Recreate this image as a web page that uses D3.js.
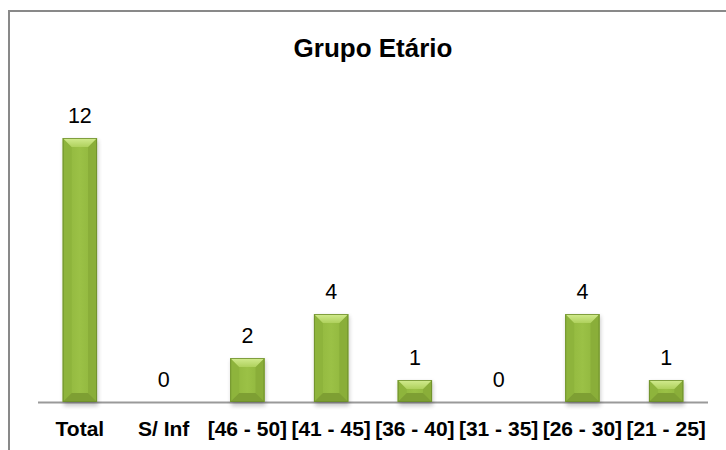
<!DOCTYPE html>
<html>
<head>
<meta charset="utf-8">
<script src="https://cdn.jsdelivr.net/npm/d3@7"></script>
<style>
  body { margin: 0; background: #fff; }
  text { font-family: "Liberation Sans", Arial, sans-serif; fill: #000; }
</style>
</head>
<body>
<script>
// Data
const categories = ["Total", "S/ Inf", "[46 - 50]", "[41 - 45]", "[36 - 40]", "[31 - 35]", "[26 - 30]", "[21 - 25]"];
const values = [12, 0, 2, 4, 1, 0, 4, 1];
const title = "Grupo Etário";

const W = 726, H = 450;
const plot = { left: 38, right: 708, top: 138, bottom: 402 };

const svg = d3.select("body")
    .append("svg")
    .attr("width", W)
    .attr("height", H);

// Frame (only top and left visible in the crop)
svg.append("path")
    .attr("d", `M9,${H} L9,11 L${W},11`)
    .attr("fill", "none")
    .attr("stroke", "#898989")
    .attr("stroke-width", 2);

// Title
svg.append("text")
    .attr("x", 373)
    .attr("y", 57)
    .attr("text-anchor", "middle")
    .attr("font-size", "26px")
    .attr("font-weight", "bold")
    .text(title);

// Scales
const x = d3.scaleBand()
    .domain(categories)
    .range([plot.left, plot.right])
    .paddingInner(0.59)
    .paddingOuter(0.295);

const y = d3.scaleLinear()
    .domain([0, 12])
    .range([plot.bottom, plot.top]);

// Gradients / shadow
const defs = svg.append("defs");
defs.append("filter")
    .attr("id", "shadow")
    .attr("x", "-30%").attr("y", "-30%")
    .attr("width", "160%").attr("height", "160%")
    .append("feGaussianBlur")
    .attr("stdDeviation", 2);

const faceGrad = defs.append("linearGradient")
    .attr("id", "face")
    .attr("x1", "0").attr("x2", "1").attr("y1", "0").attr("y2", "0");
faceGrad.append("stop").attr("offset", "0%").attr("stop-color", "#8fb53c");
faceGrad.append("stop").attr("offset", "50%").attr("stop-color", "#9bc146");
faceGrad.append("stop").attr("offset", "100%").attr("stop-color", "#8db33b");

const topGrad = defs.append("linearGradient")
    .attr("id", "topFacet")
    .attr("x1", "0").attr("x2", "0").attr("y1", "0").attr("y2", "1");
topGrad.append("stop").attr("offset", "0%").attr("stop-color", "#d3ec90");
topGrad.append("stop").attr("offset", "100%").attr("stop-color", "#afd15d");

// Baseline
svg.append("line")
    .attr("x1", plot.left)
    .attr("x2", plot.right)
    .attr("y1", plot.bottom + 0.5)
    .attr("y2", plot.bottom + 0.5)
    .attr("stroke", "#9a9a9a")
    .attr("stroke-width", 2);

// Bars
const bars = svg.selectAll(".bar")
    .data(values.map((v, i) => ({ cat: categories[i], v })).filter(d => d.v > 0))
    .enter()
    .append("g")
    .attr("class", "bar");

bars.append("rect")
    .attr("x", d => x(d.cat) + 1)
    .attr("y", d => y(d.v) + 2)
    .attr("width", x.bandwidth())
    .attr("height", d => plot.bottom - y(d.v) + 2)
    .attr("fill", "#000")
    .attr("opacity", 0.22)
    .attr("filter", "url(#shadow)");

bars.each(function (d) {
    const g = d3.select(this);
    const x0 = x(d.cat), x1 = x0 + x.bandwidth();
    const y0 = y(d.v), y1 = plot.bottom;
    const b = Math.min(9, (x1 - x0) / 2, (y1 - y0) / 2);

    g.append("rect")
        .attr("x", x0).attr("y", y0)
        .attr("width", x1 - x0).attr("height", y1 - y0)
        .attr("fill", "url(#face)");
    // left facet
    g.append("polygon")
        .attr("points", [[x0, y0], [x0 + b, y0 + b], [x0 + b, y1 - b], [x0, y1]].join(" "))
        .attr("fill", "#8eb43c");
    // right facet
    g.append("polygon")
        .attr("points", [[x1, y0], [x1, y1], [x1 - b, y1 - b], [x1 - b, y0 + b]].join(" "))
        .attr("fill", "#8aae39");
    // bottom facet
    g.append("polygon")
        .attr("points", [[x0, y1], [x0 + b, y1 - b], [x1 - b, y1 - b], [x1, y1]].join(" "))
        .attr("fill", "#7e9f33");
    // top facet
    g.append("polygon")
        .attr("points", [[x0, y0], [x1, y0], [x1 - b, y0 + b], [x0 + b, y0 + b]].join(" "))
        .attr("fill", "url(#topFacet)");
    // outline
    g.append("rect")
        .attr("x", x0 + 0.5).attr("y", y0 + 0.5)
        .attr("width", x1 - x0 - 1).attr("height", y1 - y0 - 1)
        .attr("fill", "none")
        .attr("stroke", "#6c8c2a")
        .attr("stroke-opacity", 0.8)
        .attr("stroke-width", 1);
});

// Value labels
svg.selectAll(".label")
    .data(values)
    .enter()
    .append("text")
    .attr("class", "label")
    .attr("x", (d, i) => x(categories[i]) + x.bandwidth() / 2)
    .attr("y", d => y(d) - 15)
    .attr("text-anchor", "middle")
    .attr("font-size", "21.5px")
    .text(d => d);

// Category labels
svg.selectAll(".cat")
    .data(categories)
    .enter()
    .append("text")
    .attr("class", "cat")
    .attr("x", d => x(d) + x.bandwidth() / 2)
    .attr("y", 436)
    .attr("text-anchor", "middle")
    .attr("font-size", "21px")
    .attr("font-weight", "bold")
    .text(d => d);
</script>
</body>
</html>
